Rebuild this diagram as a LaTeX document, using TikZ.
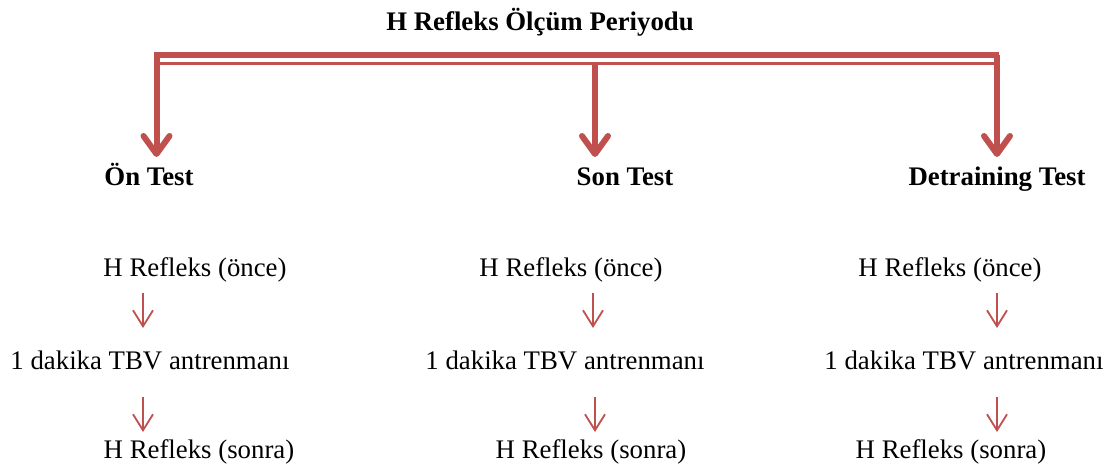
\documentclass[tikz,border=0pt]{standalone}
\usepackage{fontspec}
\setmainfont{Liberation Serif}
\usetikzlibrary{arrows.meta}
\definecolor{refred}{RGB}{192,80,77}
\begin{document}
\begin{tikzpicture}[x=0.5pt,y=-0.5pt,
  lbl/.style={font=\fontsize{13.4}{16}\selectfont,inner sep=1pt},
  head/.style={font=\fontsize{13.4}{16}\selectfont\bfseries,inner sep=1pt},
  bus/.style={refred,line cap=rect},
  bigarrow/.style={refred,line width=3pt,-{Straight Barb[length=9pt,width=13pt,line width=3pt,round]}},
  smallarrow/.style={refred,line width=0.9pt,-{Straight Barb[length=8pt,width=10pt,line width=0.9pt]}}]
\useasboundingbox (0,0) rectangle (1115,469);
\node[head] (title) at (540,22) {H Refleks Ölçüm Periyodu};
\draw[bus,line width=3pt] (157,55) -- (996,55);
\draw[bus,line width=1.3pt] (160,63.5) -- (994,63.5);
\coordinate (b1) at (156.5,55);
\coordinate (e1) at (156.5,157);
\coordinate (b2) at (595,62);
\coordinate (e2) at (595,157);
\coordinate (b3) at (997,55);
\coordinate (e3) at (997,157);
\draw[bigarrow] (b1) -- (e1);
\draw[bigarrow] (b2) -- (e2);
\draw[bigarrow] (b3) -- (e3);
\node[head,anchor=base] (on) at (149,186) {Ön Test};
\node[head,anchor=base] (son) at (625,186) {Son Test};
\node[head,anchor=base] (det) at (997,186) {Detraining Test};
\node[lbl] (pre1) at (195,270) {H Refleks (önce)};
\node[lbl] (tbv1) at (150,360) {1 dakika TBV antrenmanı};
\node[lbl] (post1) at (199,452) {H Refleks (sonra)};
\node[lbl] (pre2) at (571,270) {H Refleks (önce)};
\node[lbl] (tbv2) at (565,360) {1 dakika TBV antrenmanı};
\node[lbl] (post2) at (591,452) {H Refleks (sonra)};
\node[lbl] (pre3) at (950,270) {H Refleks (önce)};
\node[lbl] (tbv3) at (964,360) {1 dakika TBV antrenmanı};
\node[lbl] (post3) at (951,452) {H Refleks (sonra)};
\coordinate (a1) at (143,293);
\coordinate (a2) at (143,328);
\coordinate (a3) at (143,397);
\coordinate (a4) at (143,432);
\coordinate (c1) at (593,293);
\coordinate (c2) at (593,328);
\coordinate (c3) at (595,397);
\coordinate (c4) at (595,432);
\coordinate (d1) at (997,293);
\coordinate (d2) at (997,328);
\coordinate (d3) at (997,397);
\coordinate (d4) at (997,432);
\draw[smallarrow] (a1) -- (a2);
\draw[smallarrow] (a3) -- (a4);
\draw[smallarrow] (c1) -- (c2);
\draw[smallarrow] (c3) -- (c4);
\draw[smallarrow] (d1) -- (d2);
\draw[smallarrow] (d3) -- (d4);
\end{tikzpicture}
\end{document}
